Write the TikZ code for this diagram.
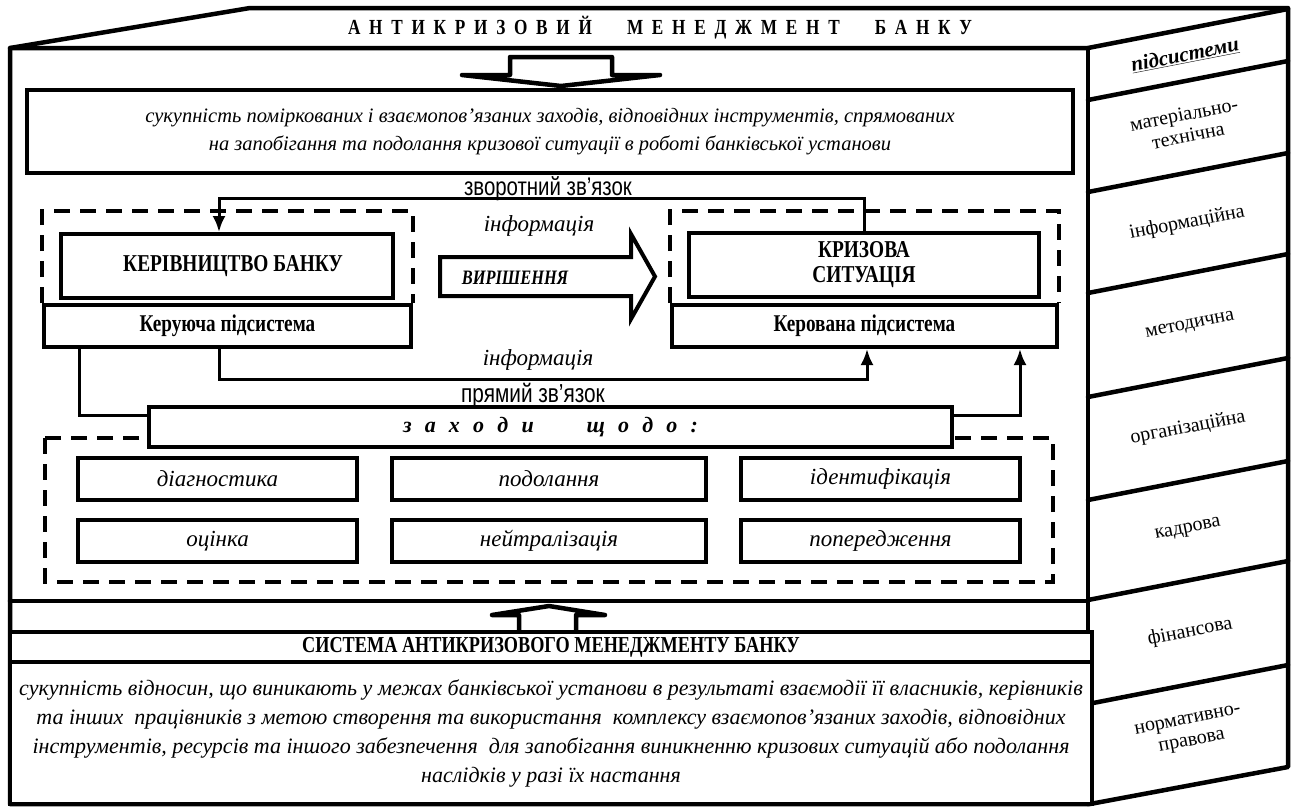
\documentclass[tikz,border=0pt]{standalone}
\usepackage{fontspec}
\setmainfont{Liberation Serif}[BoldFont={Liberation Serif Bold},ItalicFont={Liberation Serif Italic},BoldItalicFont={Liberation Serif Bold Italic}]
\newfontfamily\condserif{Liberation Serif}[FakeStretch=0.8,BoldFont={Liberation Serif Bold},ItalicFont={Liberation Serif Italic},BoldItalicFont={Liberation Serif Bold Italic}]
\newfontfamily\nsans{Liberation Sans}[FakeStretch=0.8]
\usetikzlibrary{arrows.meta,calc}
\begin{document}
\begin{tikzpicture}[x=1pt,y=-1pt,
  frame/.style={line width=4.5pt,line join=round,line cap=round},
  box/.style={draw,line width=4pt,fill=white,inner sep=0pt,align=center},
  dashbox/.style={line width=4pt,dash pattern=on 16pt off 10pt},
  conn/.style={line width=3pt},
  arr/.style={conn,-{Latex[length=16pt,width=13pt]}},
  itx/.style={font=\fontsize{23}{29}\selectfont\itshape},
  bcond/.style={font=\fontsize{24.2}{25}\selectfont\condserif\bfseries},
  subs/.style={font=\fontsize{24}{25}\selectfont\condserif\bfseries},
  lbl/.style={font=\fontsize{25.5}{27}\selectfont\nsans,inner sep=0pt},
  side/.style={font=\fontsize{20}{22}\selectfont,rotate=11,align=center,inner sep=0pt},
]
\fill[white] (0,0) rectangle (1291,807);
\useasboundingbox (0,0) rectangle (1291,807);

% ---------- outer 3D frame ----------
\draw[frame] (10,804) -- (10,48) -- (250,8) -- (1288,8) -- (1288,767) -- (1090,804) -- cycle;
\draw[frame] (10,48) -- (1088,48) -- (1288,9);
\draw[frame] (1088,48) -- (1088,804);
\foreach \yy in {100,192,293,397,500,600,704}
  \draw[frame] (1088,\yy) -- (1288,\yy-39);
\draw[frame] (10,601) -- (1088,601);

\node[font=\fontsize{21.5}{22}\selectfont\condserif\bfseries,inner sep=0pt] (title) at (660,28)
 {\makebox[624pt][s]{А\hfill Н\hfill Т\hfill И\hfill К\hfill Р\hfill И\hfill З\hfill О\hfill В\hfill И\hfill Й\hfill\hfill\hfill\hfill
  М\hfill Е\hfill Н\hfill Е\hfill Д\hfill Ж\hfill М\hfill Е\hfill Н\hfill Т\hfill\hfill\hfill\hfill Б\hfill А\hfill Н\hfill К\hfill У}};

% ---------- top down arrow ----------
\draw[line width=4.5pt,line join=round,line cap=round,fill=white]
  (510,75) -- (510,57) -- (612,57) -- (612,75) -- (660,75) -- (561,86) -- (462,75) -- cycle;

% ---------- definition box ----------
\node[box,minimum width=1046pt,minimum height=83pt,font=\fontsize{20.5}{28.5}\selectfont\itshape] (goal) at (550,131.5)
 {сукупність поміркованих і взаємопов’язаних заходів, відповідних інструментів, спрямованих\\
  на запобігання та подолання кризової ситуації в роботі банківської установи};

% ---------- subsystems ----------
\node[box,subs,minimum width=367pt,minimum height=42pt] (keruy) at (227.5,326) {Керуюча підсистема};
\node[box,subs,minimum width=385pt,minimum height=42pt] (kerov) at (864.5,326) {Керована підсистема};
\draw[dashbox] (keruy.north west) -- ++(0,-92) -| (keruy.north east);
\draw[dashbox] (kerov.north west) -- ++(0,-92) -| (kerov.north east);
\node[box,bcond,minimum width=332pt,minimum height=64pt] (kerivn) at (227,266) {\hspace*{12pt}КЕРІВНИЦТВО БАНКУ};
\node[box,bcond,minimum width=350pt,minimum height=64pt] (kriza) at (864,265) {КРИЗОВА\\СИТУАЦІЯ};

% ---------- decision arrow ----------
\draw[line width=4pt,line join=miter,fill=white]
  (440,257) -- (631,257) -- (631,234) -- (655,276.5) -- (631,319) -- (631,296) -- (440,296) -- cycle;
\node[font=\fontsize{20.5}{22}\selectfont\condserif\bfseries\itshape,inner sep=0pt] (vyr) at (515,278) {ВИРІШЕННЯ};
\node[itx,inner sep=0pt] (info1) at (539,226) {інформація};
\node[itx,inner sep=0pt] (info2) at (538,360) {інформація};

% ---------- measures ----------
\draw[dashbox] (45,438) rectangle (1053,582);
\node[box,minimum width=803pt,minimum height=40pt,font=\fontsize{22}{23}\selectfont\bfseries\itshape] (zakh) at (550.5,427)
 {\makebox[295pt][s]{з\hfill а\hfill х\hfill о\hfill д\hfill и\hfill\hfill\hfill\hfill щ\hfill о\hfill д\hfill о\hfill :}};
\node[box,itx,minimum width=279pt,minimum height=42pt] (m1) at (217.5,479) {діагностика};
\node[box,itx,minimum width=314pt,minimum height=42pt] (m2) at (549,479) {подолання};
\node[box,itx,minimum width=279pt,minimum height=42pt] (m3) at (880.5,479) {ідентифікація};
\node[box,itx,minimum width=279pt,minimum height=42pt] (m4) at (217.5,541) {оцінка};
\node[box,itx,minimum width=314pt,minimum height=42pt] (m5) at (549,541) {нейтралізація};
\node[box,itx,minimum width=279pt,minimum height=42pt] (m6) at (880.5,541) {попередження};

% ---------- connectors ----------
\draw[arr] (kriza.north) -- ++(0,-33) -| ([xshift=-8pt]kerivn.north);
\node[lbl] (fb) at (548,189) {зворотний зв’язок};
\draw[arr] ([xshift=-8.5pt]keruy.south) -- ++(0,30) -| ([xshift=2.5pt]kerov.south);
\draw[conn] ([xshift=-148.5pt]keruy.south) |- ([yshift=-10pt]zakh.north west);
\draw[arr] ([yshift=-10pt]zakh.north east) -| ([xshift=155.5pt]kerov.south);
\node[lbl,font=\fontsize{26}{27}\selectfont\nsans] (pr) at (533,396) {прямий зв’язок};

% ---------- bottom arrow ----------
\draw[line width=4.5pt,line join=round,line cap=round,fill=white]
  (519,632) -- (519,615) -- (492,615) -- (549,606) -- (605,615) -- (576,615) -- (576,632);

% ---------- system box ----------
\node[box,minimum width=1082pt,minimum height=30pt,font=\fontsize{22.8}{24}\selectfont\condserif\bfseries] (sys) at (551,647)
 {СИСТЕМА АНТИКРИЗОВОГО МЕНЕДЖМЕНТУ БАНКУ};
\node[box,minimum width=1082pt,minimum height=142pt,font=\fontsize{22}{29}\selectfont\itshape] (sysd) at (551,733)
 {сукупність відносин, що виникають у межах банківської установи в результаті взаємодії її власників, керівників\\
  та інших\ \ працівників з метою створення та використання\ \ комплексу взаємопов’язаних заходів, відповідних\\
  інструментів, ресурсів та іншого забезпечення\ \ для запобігання виникненню кризових ситуацій або подолання\\
  наслідків у разі їх настання};

% ---------- side labels ----------
\node[side,font=\fontsize{21}{22}\selectfont\bfseries\itshape] (s0) at (1185,55) {\underline{підсистеми}};
\node[side] (s1) at (1186,125) {матеріально-\\технічна};
\node[side] (s2) at (1187,223) {інформаційна};
\node[side] (s3) at (1190,326) {методична};
\node[side] (s4) at (1188,428) {організаційна};
\node[side] (s5) at (1188,530) {кадрова};
\node[side] (s6) at (1190,632) {фінансова};
\node[side] (s7) at (1190,732) {нормативно-\\правова};
\end{tikzpicture}
\end{document}
